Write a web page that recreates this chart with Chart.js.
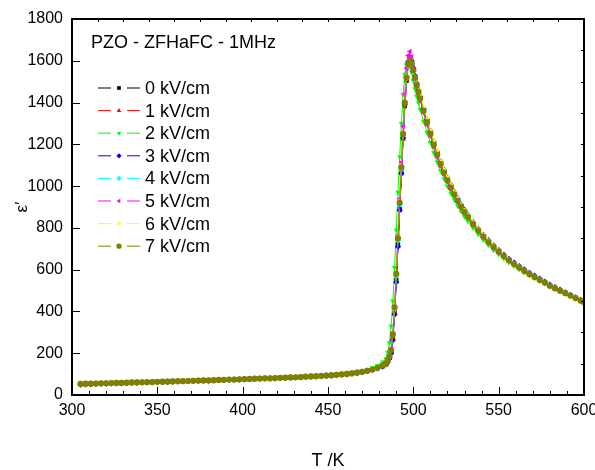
<!DOCTYPE html>
<html>
<head>
<meta charset="utf-8">
<script src="https://cdn.jsdelivr.net/npm/chart.js@4/dist/chart.umd.min.js"></script>
<style>
  html, body { margin: 0; padding: 0; background: #fff; }
  #wrap { width: 595px; height: 470px; }
</style>
</head>
<body>
<div id="wrap"><canvas id="permChart" width="595" height="470"></canvas></div>
<script>
const chartTitle = 'PZO - ZFHaFC - 1MHz';
const seriesLabels = ['0 kV/cm', '1 kV/cm', '2 kV/cm', '3 kV/cm', '4 kV/cm', '5 kV/cm', '6 kV/cm', '7 kV/cm'];

const temps = [
  305,308,311,314,317,320,323,326,329,332, 335,338,341,344,347,350,353,356,359,362,
  365,368,371,374,377,380,383,386,389,392, 395,398,401,404,407,410,413,416,419,422,
  425,428,431,434,437,440,443,446,449,452, 455,458,461,464,467,470,473,476,479,482,
  484,485,486,487,488,489,490,491,492,493,494,495,496,497,498,499,500,501,502,503,504,
  506,508,510,512,514,516,518,520,522,524,526,528,530,
  532,535,538,541,544,547,550,553,556,559,562,565,568,571,574,577,580,583,586,589,592,595,598,600
];

const eps0 = [
  53,53,54,55,55,56,57,57,58,59, 59,60,61,61,62,63,63,64,65,66,
  66,67,68,69,69,70,71,72,72,73, 74,75,76,76,77,78,79,80,81,82,
  83,84,85,86,87,88,90,91,93,94, 96,98,100,103,106,110,115,121,129,138,
  148,160,178,205,270,395,550,720,890,1065,1230,1385,1505,1575,1598,1590,1558,1520,1484,1452,1422,
  1362,1305,1252,1200,1152,1108,1067,1030,995,962,931,903,877,
  853,819,788,759,733,709,686,665,645,627,610,594,579,565,551,538,524,511,499,488,476,465,453,445
];
const eps1 = [
  54,54,55,55,56,57,57,58,59,59, 60,61,61,62,63,63,64,65,66,66,
  67,68,69,69,70,71,72,72,73,74, 75,75,76,77,78,79,80,81,82,82,
  83,84,86,87,88,89,91,92,94,96, 98,100,102,105,108,112,117,123,131,140,
  150,162,180,208,275,400,545,715,885,1060,1225,1380,1510,1580,1602,1592,1560,1522,1486,1452,1421,
  1360,1304,1250,1199,1151,1106,1066,1029,994,961,931,902,876,
  852,818,787,758,732,708,686,665,645,627,610,594,579,564,551,537,523,511,499,487,476,464,452,444
];
const eps2 = [
  52,53,53,54,55,55,56,57,57,58, 59,59,60,61,61,62,63,64,64,65,
  66,67,67,68,69,70,70,71,72,73, 74,74,75,76,77,78,79,80,81,82,
  83,84,85,86,87,89,90,92,94,96, 98,101,104,107,111,116,122,130,141,158,
  175,205,250,330,450,610,790,970,1140,1300,1440,1535,1580,1592,1575,1545,1505,1465,1430,1398,1368,
  1310,1258,1208,1160,1115,1073,1035,999,966,935,906,879,854,
  832,800,770,742,717,694,673,653,634,617,601,586,572,558,545,533,519,507,496,485,474,462,451,443
];
const eps3 = [
  50,51,52,53,54,55,55,56,57,57, 58,59,60,60,61,62,62,63,64,65,
  65,66,67,68,69,69,70,71,72,73, 73,74,75,76,77,78,79,80,80,81,
  82,83,84,85,86,88,89,90,92,93, 95,97,99,102,105,109,114,120,127,136,
  146,158,175,200,262,385,540,710,885,1060,1230,1390,1520,1595,1615,1600,1565,1528,1492,1460,1430,
  1372,1318,1264,1212,1164,1119,1078,1040,1005,972,941,912,886,
  862,828,796,767,741,716,694,672,652,634,617,601,585,571,557,543,529,516,504,492,480,468,456,447
];
const eps4 = [
  53,54,55,55,56,57,57,58,59,59, 60,61,61,62,63,63,64,65,65,66,
  67,68,68,69,70,71,71,72,73,74, 75,75,76,77,78,79,80,81,81,82,
  83,84,85,87,88,89,91,92,94,95, 97,99,102,104,108,112,117,123,131,141,
  150,163,182,212,285,410,570,740,910,1080,1245,1395,1515,1582,1603,1590,1556,1519,1483,1450,1421,
  1362,1306,1251,1199,1151,1106,1066,1029,994,961,931,903,877,
  853,819,788,759,733,709,687,666,646,628,611,595,580,565,552,538,524,512,500,488,477,465,453,445
];
const eps5 = [
  54,54,55,56,56,57,58,58,59,60, 60,61,62,62,63,64,64,65,66,67,
  67,68,69,70,70,71,72,73,73,74, 75,76,77,77,78,79,80,81,82,83,
  84,85,86,87,88,90,91,93,94,96, 98,100,103,106,109,113,118,124,132,143,
  152,166,188,225,300,430,590,765,940,1115,1285,1440,1565,1625,1645,1620,1570,1520,1478,1442,1410,
  1350,1292,1238,1186,1138,1094,1054,1018,984,952,922,895,869,
  846,813,782,754,728,704,682,662,642,624,608,592,577,563,550,537,522,510,498,487,475,463,452,443
];
const eps6 = [
  54,55,55,56,57,57,58,59,59,60, 61,61,62,63,64,64,65,66,66,67,
  68,69,69,70,71,72,72,73,74,75, 76,76,77,78,79,80,81,82,83,84,
  85,86,87,88,89,91,92,94,96,98, 100,102,104,107,110,114,119,125,133,144,
  152,167,188,220,295,425,585,755,925,1095,1255,1405,1525,1580,1595,1585,1558,1525,1492,1462,1434,
  1378,1322,1268,1216,1168,1122,1081,1043,1007,974,943,914,887,
  864,830,798,769,742,717,694,672,651,632,615,598,582,567,553,540,526,513,501,489,478,466,454,446
];
const eps7 = [
  53,54,54,55,56,56,57,58,58,59, 60,60,61,62,62,63,64,64,65,66,
  67,67,68,69,70,70,71,72,73,74, 74,75,76,77,78,79,80,80,81,82,
  83,84,85,86,88,89,90,92,93,95, 97,99,101,104,107,111,116,122,130,142,
  150,165,185,215,290,420,580,750,920,1090,1250,1400,1520,1585,1605,1588,1555,1518,1482,1450,1420,
  1360,1305,1250,1198,1150,1105,1065,1028,993,960,930,902,876,
  852,818,787,758,732,708,686,665,645,627,610,594,579,565,551,538,523,511,499,488,476,464,452,444
];

const allEps = [eps0, eps1, eps2, eps3, eps4, eps5, eps6, eps7];
const colors = ['#000000', '#ff0000', '#00ff00', '#0000ff', '#00ffff', '#ff00ff', '#ffff00', '#808000'];
const markers = ['rect', 'triangle', 'triangle', 'rectRot', 'rectRot', 'triangle', 'triangle', 'circle'];
const markerRot = [0, 0, 180, 0, 0, 270, 90, 0];

const FONT = '"Liberation Sans", Arial, sans-serif';

const datasets = allEps.map((vals, i) => ({
  label: seriesLabels[i],
  data: vals.map((v, k) => ({ x: temps[k], y: v })),
  borderColor: colors[i],
  backgroundColor: colors[i],
  borderWidth: 1,
  pointStyle: markers[i],
  rotation: markerRot[i],
  pointRadius: 3.1,
  pointBorderWidth: 0,
  pointHoverRadius: 3.1,
  order: 7 - i,
}));

// frame, inward ticks, legend and inset title
const decorations = {
  id: 'decorations',
  afterDatasetsDraw(chart) {
    const { ctx, chartArea: a, scales } = chart;
    const xs = scales.x, ys = scales.y;
    ctx.save();
    ctx.strokeStyle = '#000';
    ctx.lineWidth = 1;
    ctx.beginPath();
    for (let t = 300; t <= 600; t += 10) {
      const px = Math.round(xs.getPixelForValue(t)) + 0.5;
      const len = t % 50 === 0 ? 8 : 4;
      ctx.moveTo(px, a.bottom);
      ctx.lineTo(px, a.bottom - len);
    }
    for (let t = 300; t <= 600; t += 15) {
      const px = Math.round(xs.getPixelForValue(t)) + 0.5;
      ctx.moveTo(px, a.top);
      ctx.lineTo(px, a.top + 3);
    }
    for (let v = 0; v <= 1800; v += 200) {
      const py = Math.round(ys.getPixelForValue(v)) + 0.5;
      ctx.moveTo(a.left, py);
      ctx.lineTo(a.left + 8, py);
    }
    for (let v = 0; v <= 1800; v += 150) {
      const py = Math.round(ys.getPixelForValue(v)) + 0.5;
      ctx.moveTo(a.right, py);
      ctx.lineTo(a.right - 3, py);
    }
    ctx.stroke();
    ctx.lineWidth = 2;
    ctx.strokeRect(a.left, a.top, a.right - a.left, a.bottom - a.top);

    ctx.fillStyle = '#000';
    ctx.font = '18px ' + FONT;
    ctx.textBaseline = 'middle';
    ctx.textAlign = 'left';
    ctx.fillText(chartTitle, 91, 43);

    seriesLabels.forEach((lab, i) => {
      const y = 88 + i * 22.6;
      ctx.strokeStyle = colors[i];
      ctx.lineWidth = 1;
      ctx.beginPath();
      ctx.moveTo(98, y);
      ctx.lineTo(111, y);
      ctx.moveTo(127, y);
      ctx.lineTo(140, y);
      ctx.stroke();
      ctx.fillStyle = colors[i];
      Chart.helpers.drawPoint(ctx, { pointStyle: markers[i], rotation: markerRot[i], radius: 2.6, borderWidth: 0 }, 119, y);
      ctx.fillStyle = '#000';
      ctx.fillText(lab, 145, y + 1);
    });
    ctx.restore();
  },
};

new Chart(document.getElementById('permChart'), {
  type: 'line',
  data: { datasets },
  options: {
    responsive: false,
    animation: false,
    devicePixelRatio: 1,
    layout: { padding: { top: 19, right: 11, bottom: 0, left: 0 } },
    plugins: { legend: { display: false }, tooltip: { enabled: false } },
    scales: {
      x: {
        type: 'linear',
        min: 300,
        max: 600,
        grid: { display: false, drawTicks: false },
        border: { display: false },
        ticks: { stepSize: 50, padding: 6, color: '#000', font: { family: FONT, size: 16 }, callback: (v) => String(v) },
        title: { display: true, text: 'T /K', color: '#000', font: { family: FONT, size: 18, lineHeight: 1 }, padding: 0 },
        afterFit(scale) { scale.height = 75; scale.paddingRight = 0; },
      },
      y: {
        min: 0,
        max: 1800,
        grid: { display: false, drawTicks: false },
        border: { display: false },
        ticks: { stepSize: 200, padding: 9, color: '#000', font: { family: FONT, size: 16 }, callback: (v) => String(v) },
        title: { display: true, text: 'ε′', color: '#000', font: { family: FONT, size: 17, lineHeight: 1 }, padding: { top: 14, bottom: 0 } },
        afterFit(scale) { scale.width = 72; scale.paddingTop = 0; },
      },
    },
  },
  plugins: [decorations],
});
</script>
</body>
</html>
